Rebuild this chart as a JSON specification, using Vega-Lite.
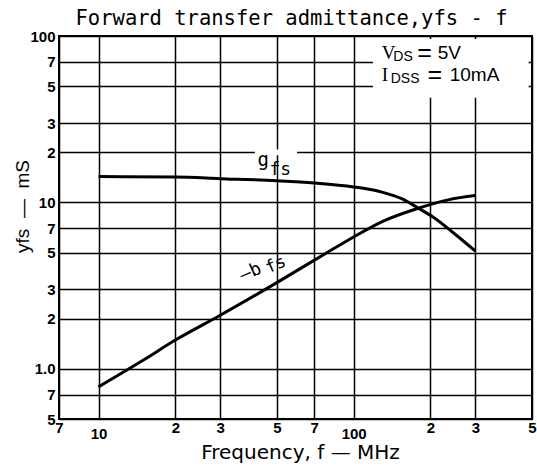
{
  "$schema": "https://vega.github.io/schema/vega-lite/v6.json",
  "width": 473,
  "height": 383,
  "autosize": {"type": "none"},
  "padding": {"left": 59, "top": 36, "right": 5, "bottom": 49},
  "background": "white",
  "title": {"text": "Forward transfer admittance,yfs - f", "font": "DejaVu Sans Mono", "fontSize": 20.5, "fontWeight": "normal", "color": "black", "offset": 0, "dx": -4},
  "config": {
    "view": {"stroke": "black", "strokeWidth": 2},
    "axis": {"gridColor": "black", "gridWidth": 1.5, "gridOpacity": 1, "ticks": false, "domain": false, "labelColor": "black", "titleColor": "black", "labelOverlap": false, "labelFlush": false, "labelBound": false}
  },
  "datasets": {
    "curves": [
      {"series": "gfs", "f": 10, "y": 14.3},
      {"series": "gfs", "f": 20, "y": 14.2},
      {"series": "gfs", "f": 30, "y": 13.9},
      {"series": "gfs", "f": 50, "y": 13.5},
      {"series": "gfs", "f": 70, "y": 13.1},
      {"series": "gfs", "f": 100, "y": 12.4},
      {"series": "gfs", "f": 130, "y": 11.5},
      {"series": "gfs", "f": 155, "y": 10.5},
      {"series": "gfs", "f": 178, "y": 9.3},
      {"series": "gfs", "f": 204, "y": 8.2},
      {"series": "gfs", "f": 245, "y": 6.6},
      {"series": "gfs", "f": 300, "y": 5.1},
      {"series": "-bfs", "f": 10, "y": 0.78},
      {"series": "-bfs", "f": 15, "y": 1.13},
      {"series": "-bfs", "f": 20, "y": 1.49},
      {"series": "-bfs", "f": 30, "y": 2.1},
      {"series": "-bfs", "f": 50, "y": 3.3},
      {"series": "-bfs", "f": 77, "y": 4.9},
      {"series": "-bfs", "f": 100, "y": 6.2},
      {"series": "-bfs", "f": 130, "y": 7.7},
      {"series": "-bfs", "f": 178, "y": 9.2},
      {"series": "-bfs", "f": 237, "y": 10.4},
      {"series": "-bfs", "f": 300, "y": 11.0}
    ],
    "one": [{}]
  },
  "layer": [
    {
      "data": {"name": "curves"},
      "mark": {"type": "line", "color": "black", "strokeWidth": 3, "interpolate": "monotone"},
      "encoding": {
        "x": {
          "field": "f", "type": "quantitative",
          "scale": {"type": "log", "domain": [7, 500], "nice": false},
          "axis": {
            "values": [7, 10, 20, 30, 50, 70, 100, 200, 300, 500],
            "labelExpr": "datum.value >= 200 ? format(datum.value/100, 'd') : datum.value == 100 ? '100' : datum.value >= 20 ? format(datum.value/10, 'd') : format(datum.value, 'd')",
            "labelFont": "Liberation Sans", "labelFontWeight": "bold", "labelFontSize": 15,
            "labelPadding": {"condition": {"test": "datum.value == 10 || datum.value == 100", "value": 7}, "value": 1},
            "title": "Frequency, f — MHz", "titleFont": "DejaVu Sans", "titleFontSize": 20, "titleFontWeight": "normal",
            "titleBaseline": "middle", "titleY": 33, "titleX": 241
          }
        },
        "y": {
          "field": "y", "type": "quantitative",
          "scale": {"type": "log", "domain": [0.5, 100], "nice": false},
          "axis": {
            "values": [0.5, 0.7, 1, 2, 3, 5, 7, 10, 20, 30, 50, 70, 100],
            "labelExpr": "datum.value == 1 ? '1.0' : datum.value == 10 ? '10' : datum.value == 100 ? '100' : datum.value < 1 ? format(datum.value*10, 'd') : datum.value < 10 ? format(datum.value, 'd') : format(datum.value/10, 'd')",
            "labelFont": "Liberation Sans", "labelFontWeight": "bold", "labelFontSize": 15, "labelPadding": 4,
            "title": "yfs\u00a0\u00a0—\u00a0\u00a0mS", "titleFont": "Liberation Sans", "titleFontSize": 19, "titleFontWeight": "normal",
            "titleBaseline": "middle", "titleAlign": "center", "titleX": -37, "titleY": 170
          }
        },
        "detail": {"field": "series"}
      }
    },
    {
      "data": {"name": "one"},
      "mark": {"type": "rect", "fill": "white"},
      "encoding": {"x": {"datum": 119}, "x2": {"datum": 485}, "y": {"datum": 42.6}, "y2": {"datum": 96}}
    },
    {
      "data": {"name": "one"},
      "mark": {"type": "rect", "fill": "white"},
      "encoding": {"x": {"datum": 41}, "x2": {"datum": 60}, "y": {"datum": 19.2}, "y2": {"datum": 20.8}}
    },
    {
      "data": {"name": "one"},
      "mark": {"type": "text", "text": "g", "font": "DejaVu Sans Mono", "fontSize": 19, "align": "left", "baseline": "alphabetic", "color": "black"},
      "encoding": {"x": {"datum": 42}, "y": {"datum": 16.65}}
    },
    {
      "data": {"name": "one"},
      "mark": {"type": "text", "text": "fs", "font": "DejaVu Sans Mono", "fontSize": 18, "align": "left", "baseline": "alphabetic", "color": "black"},
      "encoding": {"x": {"datum": 46.8}, "y": {"datum": 14.7}}
    },
    {
      "data": {"name": "one"},
      "mark": {"type": "text", "text": "—b", "font": "DejaVu Sans Mono", "fontSize": 18, "align": "center", "baseline": "middle", "angle": -24, "color": "black"},
      "encoding": {"x": {"datum": 39.5}, "y": {"datum": 3.8}}
    },
    {
      "data": {"name": "one"},
      "mark": {"type": "text", "text": "fs", "font": "DejaVu Sans Mono", "fontSize": 17, "align": "center", "baseline": "middle", "angle": -24, "color": "black"},
      "encoding": {"x": {"datum": 49.5}, "y": {"datum": 4.22}}
    },
    {
      "data": {"name": "one"},
      "mark": {"type": "text", "text": "V", "font": "Liberation Serif", "fontSize": 19, "align": "left", "baseline": "middle", "color": "black"},
      "encoding": {"x": {"datum": 128.8}, "y": {"datum": 78.6}}
    },
    {
      "data": {"name": "one"},
      "mark": {"type": "text", "text": "DS", "font": "Liberation Sans", "fontSize": 14, "align": "left", "baseline": "middle", "color": "black"},
      "encoding": {"x": {"datum": 143.1}, "y": {"datum": 74.8}}
    },
    {
      "data": {"name": "one"},
      "mark": {"type": "text", "text": "=", "font": "Liberation Sans", "fontSize": 25, "align": "left", "baseline": "middle", "color": "black"},
      "encoding": {"x": {"datum": 177.5}, "y": {"datum": 79}}
    },
    {
      "data": {"name": "one"},
      "mark": {"type": "text", "text": "5V", "font": "Liberation Sans", "fontSize": 19, "align": "left", "baseline": "middle", "color": "black"},
      "encoding": {"x": {"datum": 213.5}, "y": {"datum": 78.6}}
    },
    {
      "data": {"name": "one"},
      "mark": {"type": "text", "text": "I", "font": "Liberation Serif", "fontSize": 19, "align": "left", "baseline": "middle", "color": "black"},
      "encoding": {"x": {"datum": 128.8}, "y": {"datum": 58}}
    },
    {
      "data": {"name": "one"},
      "mark": {"type": "text", "text": "DSS", "font": "Liberation Sans", "fontSize": 14, "align": "left", "baseline": "middle", "color": "black"},
      "encoding": {"x": {"datum": 139.7}, "y": {"datum": 55.3}}
    },
    {
      "data": {"name": "one"},
      "mark": {"type": "text", "text": "=", "font": "Liberation Sans", "fontSize": 25, "align": "left", "baseline": "middle", "color": "black"},
      "encoding": {"x": {"datum": 194.5}, "y": {"datum": 58.4}}
    },
    {
      "data": {"name": "one"},
      "mark": {"type": "text", "text": "10mA", "font": "Liberation Sans", "fontSize": 19, "align": "left", "baseline": "middle", "color": "black"},
      "encoding": {"x": {"datum": 237.9}, "y": {"datum": 58}}
    }
  ]
}
